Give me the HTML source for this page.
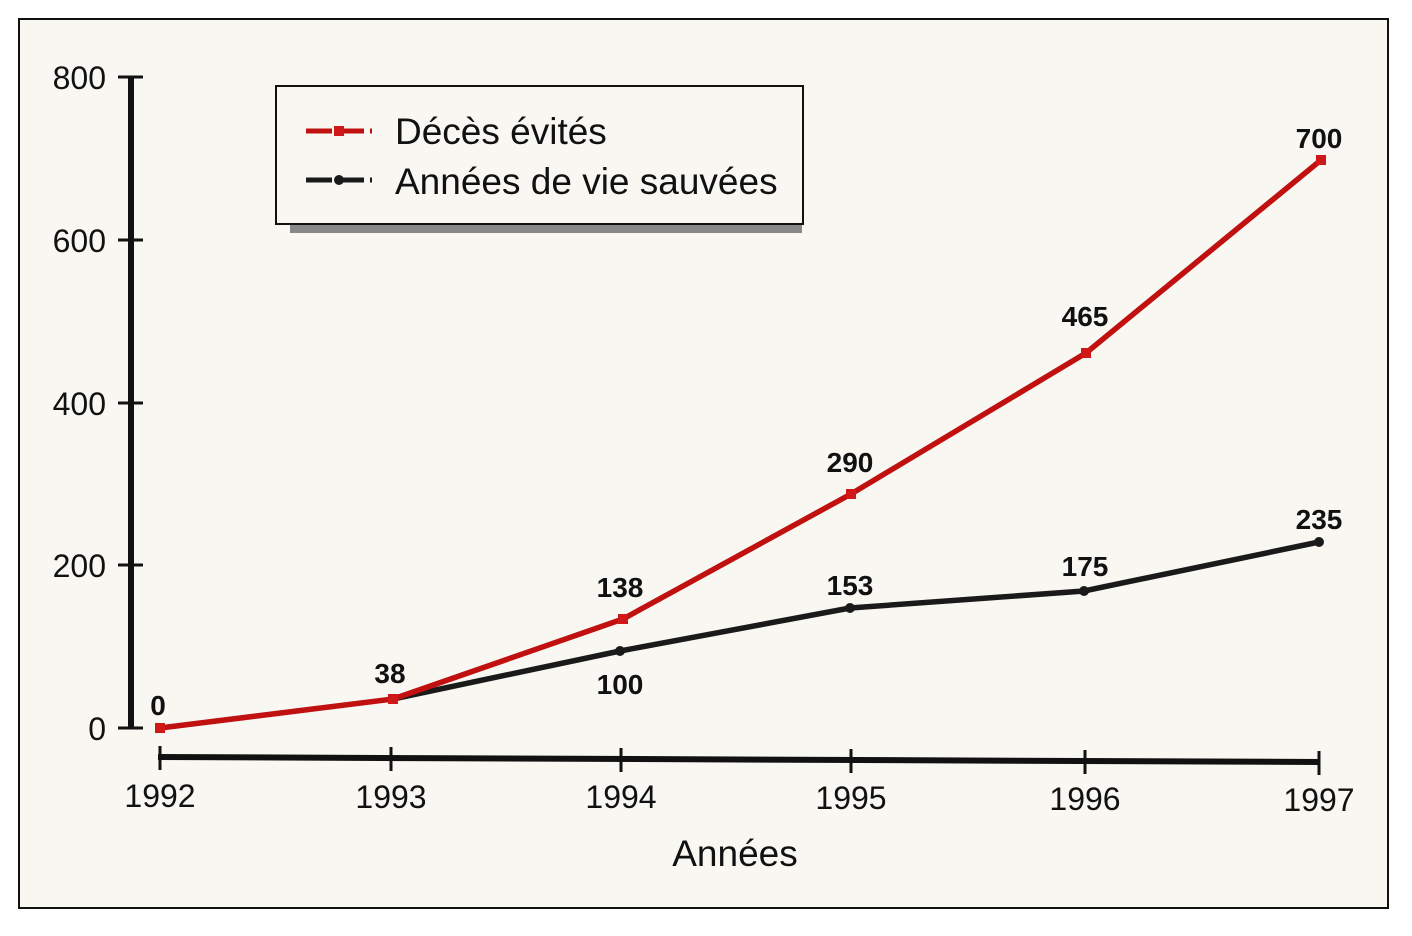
<!DOCTYPE html>
<html><head><meta charset="utf-8"><style>
html,body{margin:0;padding:0;background:#fff;}
svg{display:block;font-family:"Liberation Sans",sans-serif;}
</style></head><body>
<svg width="1412" height="936" viewBox="0 0 1412 936">
<rect x="0" y="0" width="1412" height="936" fill="#fff"/>
<rect x="19" y="19" width="1369" height="889" fill="#f9f7f2" stroke="#111" stroke-width="2"/>
<!-- y axis -->
<line x1="131" y1="76" x2="131" y2="729" stroke="#111" stroke-width="6"/>
<g stroke="#111" stroke-width="3">
<line x1="118" y1="77" x2="143" y2="77"/><line x1="118" y1="240" x2="143" y2="240"/>
<line x1="118" y1="403" x2="143" y2="403"/><line x1="118" y1="565" x2="143" y2="565"/>
<line x1="118" y1="728" x2="143" y2="728"/>
</g>
<g font-size="32" fill="#111" text-anchor="end">
<text x="106" y="89">800</text><text x="106" y="252">600</text><text x="106" y="415">400</text>
<text x="106" y="577">200</text><text x="106" y="740">0</text>
</g>
<!-- x axis -->
<line x1="158" y1="757" x2="1320" y2="762" stroke="#111" stroke-width="6"/>
<g stroke="#111" stroke-width="3">
<line x1="160" y1="746" x2="160" y2="770"/><line x1="391" y1="747" x2="391" y2="771"/>
<line x1="621" y1="748" x2="621" y2="772"/><line x1="851" y1="749" x2="851" y2="773"/>
<line x1="1085" y1="750" x2="1085" y2="774"/><line x1="1319" y1="751" x2="1319" y2="775"/>
</g>
<g font-size="32" fill="#111" text-anchor="middle">
<text x="160" y="807">1992</text><text x="391" y="808">1993</text><text x="621" y="808">1994</text>
<text x="851" y="809">1995</text><text x="1085" y="810">1996</text><text x="1319" y="811">1997</text>
<text x="735" y="866" font-size="37">Années</text>
</g>
<!-- series -->
<polyline points="393,699 620,651 850,608 1084,591 1319,542" fill="none" stroke="#1a1a1a" stroke-width="5.5"/>
<polyline points="160,728 393,699 623,619 851,494 1086,353 1321,160" fill="none" stroke="#c01010" stroke-width="5.5"/>
<g fill="#1a1a1a"><circle cx="620" cy="651" r="5"/><circle cx="850" cy="608" r="5"/><circle cx="1084" cy="591" r="5"/><circle cx="1319" cy="542" r="5"/></g>
<g fill="#d01818"><rect x="155" y="723" width="10" height="10"/><rect x="388" y="694" width="10" height="10"/><rect x="618" y="614" width="10" height="10"/><rect x="846" y="489" width="10" height="10"/><rect x="1081" y="348" width="10" height="10"/><rect x="1316" y="155" width="10" height="10"/></g>
<g font-size="28" font-weight="bold" fill="#111" text-anchor="middle">
<text x="158" y="715">0</text><text x="390" y="683">38</text><text x="620" y="597">138</text>
<text x="620" y="694">100</text><text x="850" y="472">290</text><text x="850" y="595">153</text>
<text x="1085" y="326">465</text><text x="1085" y="576">175</text><text x="1319" y="148">700</text>
<text x="1319" y="529">235</text>
</g>
<!-- legend -->
<rect x="290" y="224" width="512" height="9" fill="#888"/>
<rect x="276" y="86" width="527" height="138" fill="#f9f7f2" stroke="#111" stroke-width="2"/>
<line x1="306" y1="131" x2="372" y2="131" stroke="#c01010" stroke-width="5" stroke-dasharray="26,6"/>
<rect x="334" y="126" width="10" height="10" fill="#d01818"/>
<line x1="306" y1="180" x2="372" y2="180" stroke="#1a1a1a" stroke-width="5" stroke-dasharray="26,6"/>
<circle cx="339" cy="180" r="5" fill="#1a1a1a"/>
<g font-size="37" fill="#111"><text x="395" y="144">Décès évités</text><text x="395" y="194">Années de vie sauvées</text></g>
</svg>
</body></html>
